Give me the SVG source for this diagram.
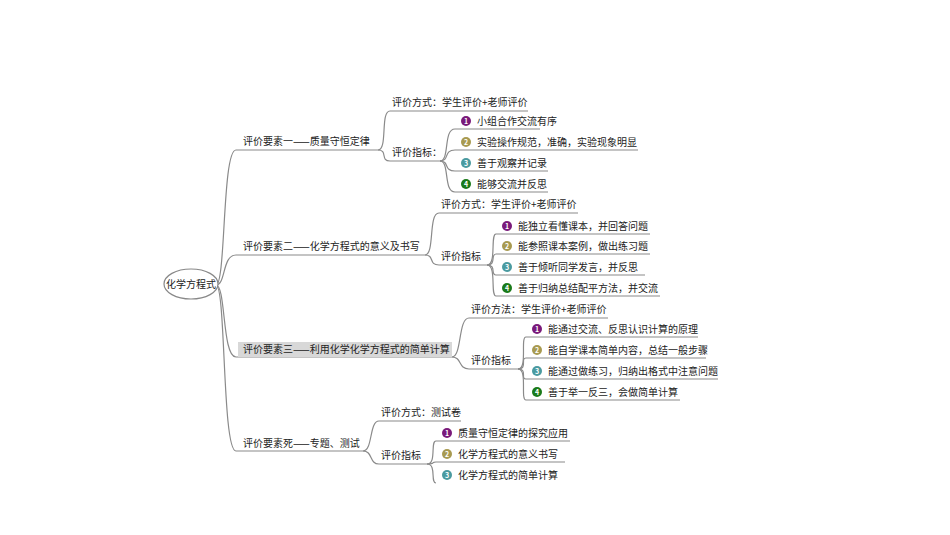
<svg xmlns="http://www.w3.org/2000/svg" width="950" height="535" viewBox="0 0 950 535">
<style>
text{font-family:"Noto Sans CJK SC","Liberation Sans",sans-serif;font-size:10px;fill:#222}
.c{fill:none;stroke:#8a8a8a;stroke-width:1.2}
.n{font-size:7px;font-weight:bold;fill:#fff;text-anchor:middle}
</style>
<rect width="950" height="535" fill="#fff"/>
<g id="connectors">
<path class="c" d="M216,285 C226,285 222,150 236,150 L378,150"/>
<path class="c" d="M216,285 C226,285 222,255 236,255 L425,255"/>
<path class="c" d="M216,285 C226,285 222,357 236,357 L452,357"/>
<path class="c" d="M216,285 C226,285 222,451 236,451 L363,451"/>
<path class="c" d="M378,150 C388,150 380,111 390,111 L528,111"/>
<path class="c" d="M378,150 C388,150 380,161 390,161 L440,161"/>
<path class="c" d="M440,161 C450,161 443,129 455,129 L540,129"/>
<path class="c" d="M440,161 C450,161 443,150 455,150 L638,150"/>
<path class="c" d="M440,161 C450,161 443,171 455,171 L548,171"/>
<path class="c" d="M440,161 C450,161 443,192 455,192 L548,192"/>
<path class="c" d="M425,255 C435,255 428,213 439,213 L578,213"/>
<path class="c" d="M425,255 C435,255 428,265 439,265 L487,265"/>
<path class="c" d="M487,265 C497,265 490,234 496,234 L650,234"/>
<path class="c" d="M487,265 C497,265 490,254 496,254 L650,254"/>
<path class="c" d="M487,265 C497,265 490,275 496,275 L645,275"/>
<path class="c" d="M487,265 C497,265 490,296 496,296 L660,296"/>
<path class="c" d="M452,357 C462,357 458,318 469,318 L608,318"/>
<path class="c" d="M452,357 C462,357 458,369 469,369 L518,369"/>
<path class="c" d="M518,369 C528,369 520,337 526,337 L698,337"/>
<path class="c" d="M518,369 C528,369 520,358 526,358 L706,358"/>
<path class="c" d="M518,369 C528,369 520,379 526,379 L718,379"/>
<path class="c" d="M518,369 C528,369 520,400 526,400 L680,400"/>
<path class="c" d="M363,451 C373,451 369,421 379,421 L461,421"/>
<path class="c" d="M363,451 C373,451 369,464 379,464 L427,464"/>
<path class="c" d="M427,464 C437,464 430,441 436,441 L570,441"/>
<path class="c" d="M427,464 C437,464 430,462 436,462 L565,462"/>
<path class="c" d="M427,464 C437,464 430,483 436,483"/>
</g>
<g id="root"><ellipse cx="191" cy="284" rx="27" ry="15" fill="#fff" stroke="#888" stroke-width="1.2"/><text x="191" y="288" text-anchor="middle">化学方程式</text></g>
<g id="b1"><text x="243" y="145">评价要素一——质量守恒定律</text></g>
<g id="b2"><text x="243" y="250">评价要素二——化学方程式的意义及书写</text></g>
<g id="b3"><rect x="238" y="342" width="214" height="15" fill="#d8d8d8"/><text x="243" y="353">评价要素三——利用化学化学方程式的简单计算</text></g>
<g id="b4"><text x="243" y="447">评价要素死——专题、测试</text></g>
<g id="b1c"><text x="392" y="106">评价方式：学生评价+老师评价</text><text x="392" y="156">评价指标：</text>
<circle cx="466" cy="121" r="5" fill="#7a1a7a"/><text class="n" x="466" y="123.5">1</text><text x="477" y="125">小组合作交流有序</text>
<circle cx="466" cy="142" r="5" fill="#a89a50"/><text class="n" x="466" y="144.5">2</text><text x="477" y="146">实验操作规范，准确，实验现象明显</text>
<circle cx="466" cy="163" r="5" fill="#4a9aa0"/><text class="n" x="466" y="165.5">3</text><text x="477" y="167">善于观察并记录</text>
<circle cx="466" cy="184" r="5" fill="#1a7a1a"/><text class="n" x="466" y="186.5">4</text><text x="477" y="188">能够交流并反思</text></g>
<g id="b2c"><text x="441" y="208">评价方式：学生评价+老师评价</text><text x="441" y="260">评价指标</text>
<circle cx="507" cy="226" r="5" fill="#7a1a7a"/><text class="n" x="507" y="228.5">1</text><text x="518" y="230">能独立看懂课本，并回答问题</text>
<circle cx="507" cy="246" r="5" fill="#a89a50"/><text class="n" x="507" y="248.5">2</text><text x="518" y="250">能参照课本案例，做出练习题</text>
<circle cx="507" cy="267" r="5" fill="#4a9aa0"/><text class="n" x="507" y="269.5">3</text><text x="518" y="271">善于倾听同学发言，并反思</text>
<circle cx="507" cy="288" r="5" fill="#1a7a1a"/><text class="n" x="507" y="290.5">4</text><text x="518" y="292">善于归纳总结配平方法，并交流</text></g>
<g id="b3c"><text x="471" y="313">评价方法：学生评价+老师评价</text><text x="471" y="364">评价指标</text>
<circle cx="537" cy="329" r="5" fill="#7a1a7a"/><text class="n" x="537" y="331.5">1</text><text x="548" y="333">能通过交流、反思认识计算的原理</text>
<circle cx="537" cy="350" r="5" fill="#a89a50"/><text class="n" x="537" y="352.5">2</text><text x="548" y="354">能自学课本简单内容，总结一般步骤</text>
<circle cx="537" cy="371" r="5" fill="#4a9aa0"/><text class="n" x="537" y="373.5">3</text><text x="548" y="375">能通过做练习，归纳出格式中注意问题</text>
<circle cx="537" cy="392" r="5" fill="#1a7a1a"/><text class="n" x="537" y="394.5">4</text><text x="548" y="396">善于举一反三，会做简单计算</text></g>
<g id="b4c"><text x="381" y="416">评价方式：测试卷</text><text x="381" y="459">评价指标</text>
<circle cx="447" cy="433" r="5" fill="#7a1a7a"/><text class="n" x="447" y="435.5">1</text><text x="458" y="437">质量守恒定律的探究应用</text>
<circle cx="447" cy="454" r="5" fill="#a89a50"/><text class="n" x="447" y="456.5">2</text><text x="458" y="458">化学方程式的意义书写</text>
<circle cx="447" cy="475" r="5" fill="#4a9aa0"/><text class="n" x="447" y="477.5">3</text><text x="458" y="479">化学方程式的简单计算</text></g>
</svg>
